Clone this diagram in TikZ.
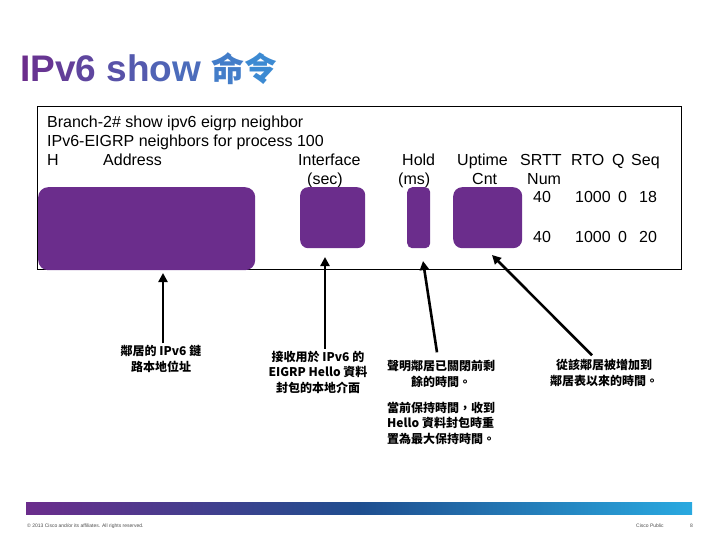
\documentclass[tikz,border=0pt]{standalone}
\usepackage{fontspec}
\setmainfont{Liberation Sans}
\newfontfamily\cjkfont{Noto Sans CJK TC}
\usetikzlibrary{arrows.meta}
\definecolor{ciscopurple}{RGB}{107,45,140}
\definecolor{ciscodark}{RGB}{31,78,143}
\definecolor{ciscosky}{RGB}{41,169,224}
\definecolor{titleend}{RGB}{58,143,214}
\tikzset{
  cli/.style={anchor=base west, inner sep=0pt, font=\fontsize{16}{19}\selectfont},
  hidebox/.style={fill=ciscopurple, rounded corners=10pt, inner sep=0pt, anchor=north west},
  remark/.style={font=\cjkfont\bfseries\fontsize{12}{15.5}\selectfont, align=center, inner sep=2pt},
  callout/.style={-{Triangle[length=9pt,width=9pt]}, line width=2.6pt},
  foot/.style={font=\fontsize{5}{6}\selectfont, text=black!70, inner sep=0pt, anchor=base west}
}
\newcommand{\tc}[2]{\textcolor{titleend!#1!ciscopurple}{#2}}
\begin{document}
\begin{tikzpicture}[x=1pt,y=-1pt]
  \useasboundingbox (0,0) rectangle (720,540);
  % title
  \node [anchor=base west, inner sep=0pt, font=\bfseries\fontsize{37}{40}\selectfont] (title) at (20,82)
    {\tc{0}{I}\tc{8}{P}\tc{17}{v}\tc{25}{6} \tc{38}{s}\tc{46}{h}\tc{55}{o}\tc{64}{w} {\cjkfont\fontsize{33}{36}\selectfont\tc{82}{命}\tc{95}{令}}};
  % output window
  \draw [line width=0.8pt] (37,106) rectangle (681,269);
  \node [cli] (cmd) at (47,128) {Branch-2\# show ipv6 eigrp neighbor};
  \node [cli] (proc) at (47,147) {IPv6-EIGRP neighbors for process 100};
  \foreach \x/\t/\n in {47/H/colh, 103/Address/coladdr, 298/Interface/colif, 402/Hold/colhold,
      457/Uptime/colup, 520/SRTT/colsrtt, 571/RTO/colrto, 612/Q/colq, 631/Seq/colseq}
    \node [cli] (\n) at (\x,166) {\t};
  \foreach \x/\t/\n in {307/(sec)/unitsec, 398/(ms)/unitms, 472/Cnt/unitcnt, 527/Num/unitnum}
    \node [cli] (\n) at (\x,185) {\t};
  \node [cli] (srtta) at (533,203) {40};
  \node [cli] (rtoa) at (575,203) {1000};
  \node [cli] (qa) at (618,203) {0};
  \node [cli] (seqa) at (639,203) {18};
  \node [cli] (srttb) at (533,242) {40};
  \node [cli] (rtob) at (575,242) {1000};
  \node [cli] (qb) at (618,242) {0};
  \node [cli] (seqb) at (639,242) {20};
  % hidden fields
  \node [hidebox, minimum width=217pt, minimum height=83pt] (addr) at (38,187) {};
  \node [hidebox, minimum width=65pt, minimum height=61pt, rounded corners=8pt] (intf) at (300,187) {};
  \node [hidebox, minimum width=23pt, minimum height=61pt, rounded corners=5pt] (hold) at (407,187) {};
  \node [hidebox, minimum width=69pt, minimum height=61pt, rounded corners=9pt] (uptime) at (453,187) {};
  % remarks
  \node [remark] (rmaddr) at (161,359) {鄰居的 IPv6 鏈\\路本地位址};
  \node [remark] (rmintf) at (318,372) {接收用於 IPv6 的\\EIGRP Hello 資料\\封包的本地介面};
  \node [remark] (rmhold) at (441,374) {聲明鄰居已關閉前剩\\餘的時間。};
  \node [remark, align=left, anchor=west] (rmreset) at (385,423) {當前保持時間，收到\\Hello 資料封包時重\\置為最大保持時間。};
  \node [remark] (rmup) at (604,373) {從該鄰居被增加到\\鄰居表以來的時間。};
  \coordinate (tipaddr) at (163,273);
  \coordinate (tipintf) at (325,257);
  \coordinate (tiphold) at (423,261);
  \coordinate (tipup) at (492,255);
  \draw [callout] (tipaddr |- rmaddr.north) -- (tipaddr);
  \draw [callout] (tipintf |- rmintf.north) -- (tipintf);
  \draw [callout] ([xshift=-4pt,yshift=6pt]rmhold.north) -- (tiphold);
  \draw [callout] ([xshift=-12pt,yshift=2pt]rmup.north) -- (tipup);
  % footer
  \shade [left color=ciscopurple, right color=ciscosky, middle color=ciscodark] (26,502) rectangle (692,514);
  \node [foot] (copy) at (27,527) {© 2013 Cisco and/or its affiliates. All rights reserved.};
  \node [foot] (public) at (636,527) {Cisco Public};
  \node [foot] (page) at (690,527) {8};
\end{tikzpicture}
\end{document}
